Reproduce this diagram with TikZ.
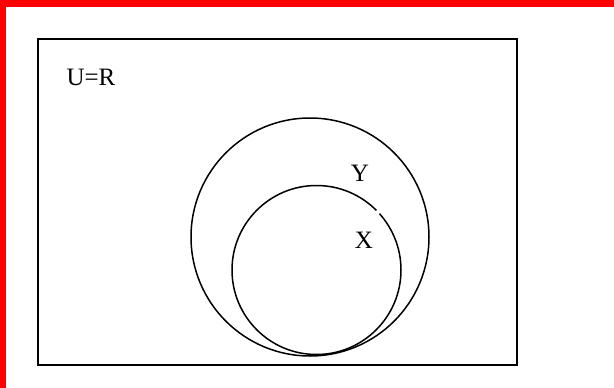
\documentclass[tikz,border=0pt]{standalone}
\usepackage{fontspec}
\setmainfont{Liberation Serif}
\begin{document}
\begin{tikzpicture}[x=1pt,y=-1pt,
  lbl/.style={font=\fontsize{25}{28}\selectfont, inner sep=0pt},
  outline/.style={draw=black, line width=1.5pt}]
\useasboundingbox (0,0) rectangle (614,388);
\fill[white] (0,0) rectangle (614,388);
\fill[red] (0,0) rectangle (614,7);
\fill[red] (0,0) rectangle (6,388);
\node[outline, minimum width=479pt, minimum height=326pt, inner sep=0pt, anchor=north west] (U) at (37,38) {};
\node[outline, circle, minimum size=238pt, inner sep=0pt] (Ybig) at (310,237) {};
\node[outline, circle, minimum size=169pt, inner sep=0pt] (Xsm) at (316.5,270) {};
\fill[white] (378,212) circle (2.2pt);
\node[lbl] (ulab) at (91,77) {U=R};
\node[lbl] (ylab) at (360,173) {Y};
\node[lbl] (xlab) at (364,240) {X};
\end{tikzpicture}
\end{document}
